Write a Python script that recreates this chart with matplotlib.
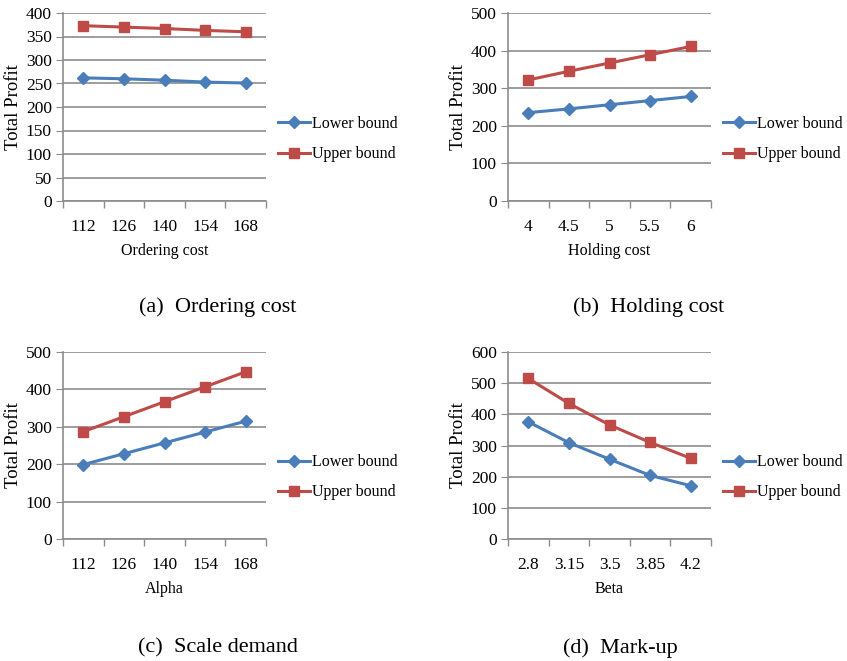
import matplotlib
matplotlib.use("Agg")
import matplotlib.pyplot as plt

plt.rcParams['font.family'] = ['Liberation Serif', 'DejaVu Serif']

# Data
cats_a = ["112", "126", "140", "154", "168"]
lower_a = [262, 260, 257, 253, 251]
upper_a = [373, 370, 367, 363, 360]

cats_b = ["4", "4.5", "5", "5.5", "6"]
lower_b = [235, 245, 256, 267, 278]
upper_b = [322, 345, 367, 389, 411]

cats_c = ["112", "126", "140", "154", "168"]
lower_c = [199, 228, 257, 286, 315]
upper_c = [287, 327, 367, 407, 447]

cats_d = ["2.8", "3.15", "3.5", "3.85", "4.2"]
lower_d = [376, 309, 256, 204, 171]
upper_d = [515, 435, 366, 310, 259]

xlabels = ["Ordering cost", "Holding cost", "Alpha", "Beta"]
captions = ["(a)  Ordering cost", "(b)  Holding cost", "(c)  Scale demand", "(d)  Mark-up"]
ymaxes = [400, 500, 500, 600]
ysteps = [50, 100, 100, 100]

W, H = 847, 661
fig = plt.figure(figsize=(W / 100, H / 100), dpi=100)

blue = "#4A7EBB"
red = "#BE4B48"
grid = "#8C8C8C"

# pixel boxes: (left, top, right, bottom)
boxes = [(63, 13, 266, 201), (508, 13, 711, 201), (63, 352, 266, 539), (508, 352, 711, 539)]
caption_pos = [(218, 307), (649, 307), (218, 648), (620, 648)]

datasets = [(cats_a, lower_a, upper_a), (cats_b, lower_b, upper_b),
            (cats_c, lower_c, upper_c), (cats_d, lower_d, upper_d)]

for i, (cats, lo, up) in enumerate(datasets):
    l, t, r, b = boxes[i]
    ax = fig.add_axes([l / W, 1 - b / H, (r - l) / W, (b - t) / H])
    x = list(range(len(cats)))
    ax.plot(x, lo, color=blue, lw=2.2, marker="D", ms=6, label="Lower bound", zorder=3)
    ax.plot(x, up, color=red, lw=2.2, marker="s", ms=7.5, label="Upper bound", zorder=3)
    ax.set_xlim(-0.5, len(cats) - 0.5)
    ax.set_ylim(0, ymaxes[i])
    ax.set_yticks(range(0, ymaxes[i] + 1, ysteps[i]))
    ax.set_xticks(x)
    ax.set_xticklabels(cats)
    ax.set_xticks([k - 0.5 for k in range(len(cats) + 1)], minor=True)
    ax.tick_params(axis="x", which="major", length=0, labelsize=12.5, pad=13)
    ax.tick_params(axis="x", which="minor", length=5, color=grid, width=1)
    ax.tick_params(axis="y", which="major", length=5, color=grid, labelsize=12.5, pad=3)
    ax.yaxis.grid(True, color=grid, lw=1.2)
    ax.set_axisbelow(True)
    for s in ["top", "right"]:
        ax.spines[s].set_visible(False)
    ax.spines["left"].set_color(grid)
    ax.spines["bottom"].set_color(grid)
    ax.spines["left"].set_linewidth(1.2)
    ax.spines["bottom"].set_linewidth(1.2)
    ax.set_ylabel("Total Profit", fontsize=13.5, labelpad=3)
    ax.set_xlabel(xlabels[i], fontsize=11.5, labelpad=6)
    ax.legend(loc="center left", bbox_to_anchor=(1.03, 0.33), frameon=False,
              fontsize=11.5, handlelength=2.0, handletextpad=0.1, labelspacing=0.9,
              borderaxespad=0)
    cx, cy = caption_pos[i]
    fig.text(cx / W, 1 - cy / H, captions[i], ha="center", va="center", fontsize=16)

fig.savefig("out.png", dpi=100)
